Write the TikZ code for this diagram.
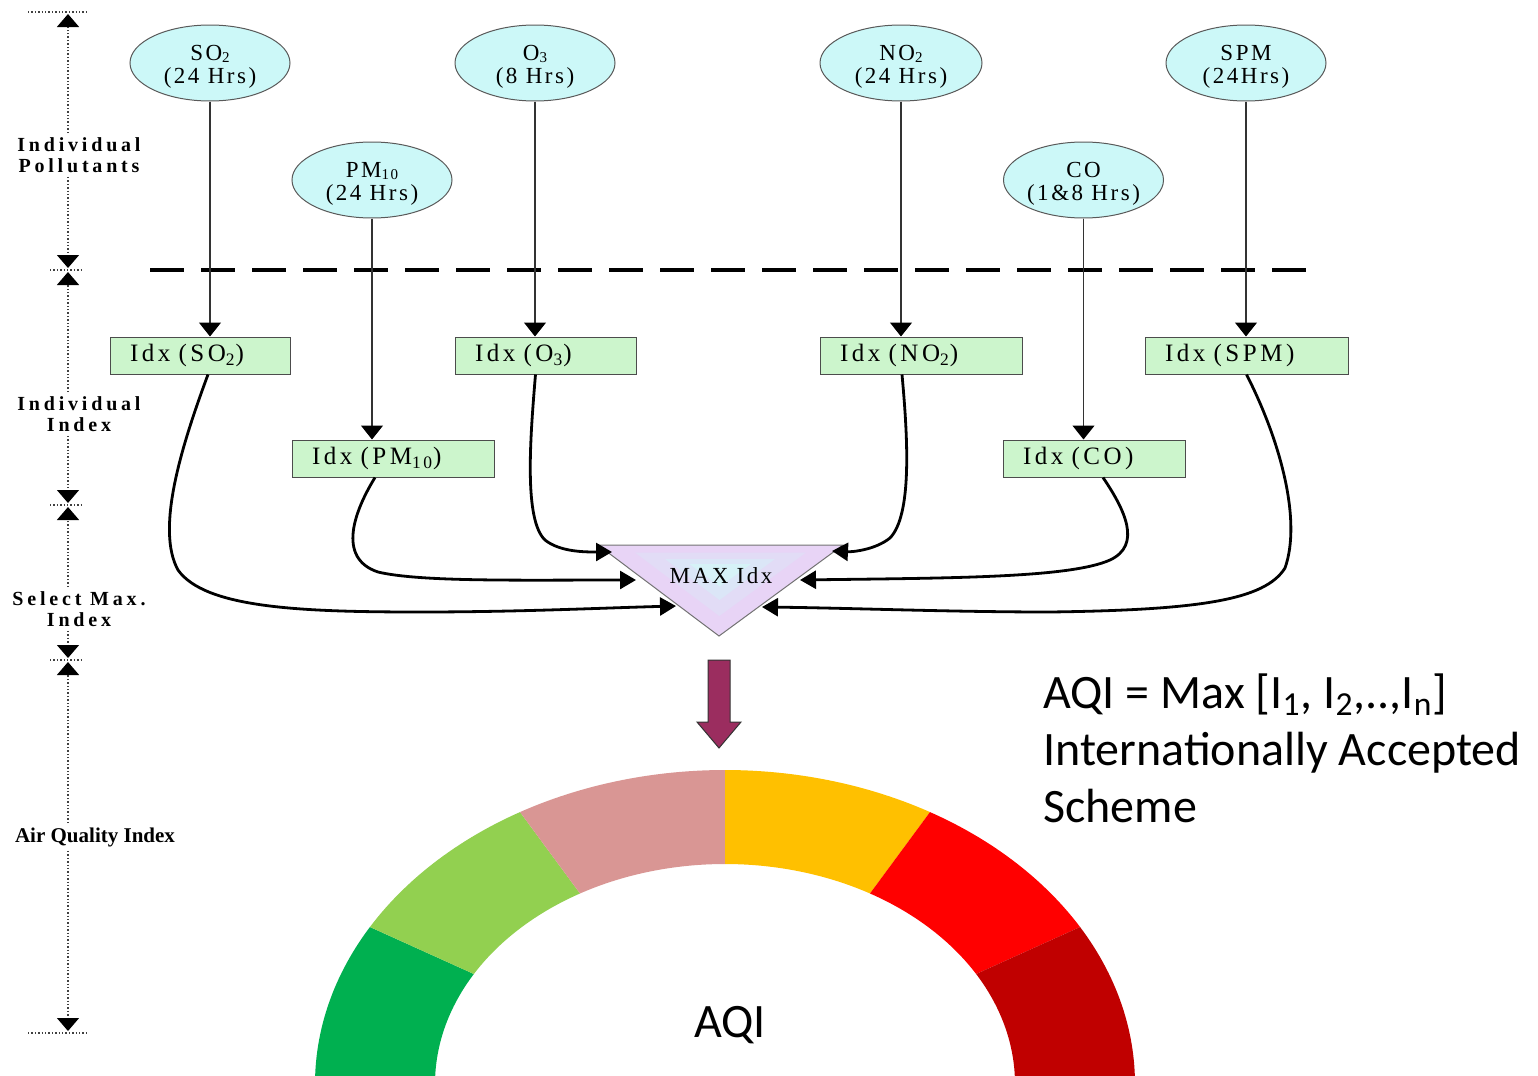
\documentclass[tikz,border=0pt]{standalone}
\usepackage{fontspec}
\setmainfont{Liberation Serif}
\newfontfamily\diagf[LetterSpace=11]{Liberation Serif}
\newfontfamily\boxf[LetterSpace=14]{Liberation Serif}
\newfontfamily\axisf[LetterSpace=19]{Liberation Serif}
\newfontfamily\calf{Carlito}
\usetikzlibrary{arrows.meta,shapes.geometric}
\definecolor{ellfill}{HTML}{CCF8F8}
\definecolor{boxfill}{HTML}{CCF5CC}
\definecolor{lavA}{HTML}{E8D4F6}
\definecolor{lavB}{HTML}{E2DCF6}
\definecolor{lavC}{HTML}{DBE6F7}
\definecolor{lavD}{HTML}{D6F2F7}
\definecolor{plum}{HTML}{9B2D5F}
\definecolor{gA}{HTML}{00B050}
\definecolor{gB}{HTML}{92D050}
\definecolor{gC}{HTML}{D99694}
\definecolor{gD}{HTML}{FFC000}
\definecolor{gE}{HTML}{FF0000}
\definecolor{gF}{HTML}{C00000}
\tikzset{
  pollutant/.style={ellipse, draw=black!65, fill=ellfill, line width=0.5pt,
    minimum width=80pt, minimum height=38pt, inner sep=0pt, align=center,
    font=\diagf\fontsize{11.5}{11.5}\selectfont},
  idxbox/.style={rectangle, draw=black!70, fill=boxfill, line width=0.5pt,
    minimum height=18.5pt, inner xsep=10pt, inner ysep=0pt, align=left,
    font=\boxf\fontsize{12.5}{12.5}\selectfont},
  feed/.style={draw=black!80, line width=0.6pt, -{Triangle[width=11pt,length=7pt,color=black]}},
  merge/.style={draw=black, line width=1.4pt, -{Triangle[width=9pt,length=8pt]}},
  axisline/.style={draw=black!75, densely dotted, line width=0.7pt},
  axtip/.style={-{Triangle[width=11pt,length=6.5pt,color=black]}, shorten >=1pt},
  axislab/.style={align=center, inner sep=2pt, font=\axisf\bfseries\fontsize{10}{10.5}\selectfont},
  sepline/.style={draw=black, line width=2pt, dash pattern=on 17pt off 8.5pt},
  bigtext/.style={anchor=base west, inner sep=0pt, font=\calf\fontsize{24}{28}\selectfont}
}
\newcommand{\lift}{\rule{0pt}{11pt}}
\newcommand{\sbs}[1]{\raisebox{-0.1em}{\fontsize{7.5}{7.5}\selectfont #1}}
\begin{document}
\begin{tikzpicture}[x=0.5pt,y=-0.5pt]
\useasboundingbox (0,0) rectangle (1538,1076);
\clip (0,0) rectangle (1538,1076);

% ---------- left axis ----------
\coordinate (t0) at (68,12);
\coordinate (s1) at (68,270);
\coordinate (s2) at (68,505);
\coordinate (s3) at (68,660);
\coordinate (t4) at (68,1033);
\node[axislab] (l1) at (79,155) {Individual\\Pollutants};
\node[axislab] (l2) at (79,414) {Individual\\Index};
\node[axislab] (l3) at (79,609) {Select Max.\\Index};
\node[inner sep=2pt, font=\bfseries\fontsize{10.5}{12}\selectfont] (l4) at (95,837) {Air Quality Index};

\draw[axisline] ([xshift=-20pt]t0) -- ([xshift=9pt]t0);
\draw[axisline] ([xshift=-20pt]t4) -- ([xshift=9pt]t4);
\foreach \s in {s1,s2,s3}
  \draw[axisline] ([xshift=-9pt]\s) -- ([xshift=7pt]\s);

\draw[axisline, axtip] (t0 |- l1.north) -- (t0);
\draw[axisline, axtip] (t0 |- l1.south) -- (s1);
\draw[axisline, axtip] (t0 |- l2.north) -- (s1);
\draw[axisline, axtip] (t0 |- l2.south) -- (s2);
\draw[axisline, axtip] (t0 |- l3.north) -- (s2);
\draw[axisline, axtip] (t0 |- l3.south) -- (s3);
\draw[axisline, axtip] (t0 |- l4.north) -- (s3);
\draw[axisline, axtip] (t0 |- l4.south) -- (t4);

% ---------- pollutants ----------
\node[pollutant] (so2) at (210,63) {\lift SO\sbs{2}\\(24 Hrs)};
\node[pollutant] (o3) at (535,63) {\lift O\sbs{3}\\(8 Hrs)};
\node[pollutant, minimum width=81pt] (no2) at (901,63) {\lift NO\sbs{2}\\(24 Hrs)};
\node[pollutant] (spm) at (1246,63) {\lift SPM\\(24Hrs)};
\node[pollutant] (pm10) at (372,180) {\lift PM\sbs{10}\\(24 Hrs)};
\node[pollutant] (co) at (1083.5,180) {\lift CO\\(1\&8 Hrs)};

% ---------- separator ----------
\coordinate (dl) at (150,270);
\coordinate (dr) at (1306,270);
\draw[sepline] (dl) -- (dr);

% ---------- index boxes ----------
\node[idxbox, text width=70pt] (iso2) at (200,355.5) {Idx (SO\textsubscript{2})};
\node[idxbox, text width=70.5pt] (io3) at (545.5,355.5) {Idx (O\textsubscript{3})};
\node[idxbox, text width=81pt] (ino2) at (921,355.5) {Idx (NO\textsubscript{2})};
\node[idxbox, text width=81.5pt] (ispm) at (1246.5,355.5) {Idx (SPM)};
\node[idxbox, text width=81pt] (ipm10) at (393,458.5) {Idx (PM\textsubscript{10})};
\node[idxbox, text width=71pt] (ico) at (1094,458.5) {Idx (CO)};

\draw[feed] (so2) -- (so2 |- iso2.north);
\draw[feed] (o3) -- (o3 |- io3.north);
\draw[feed] (no2) -- (no2 |- ino2.north);
\draw[feed] (spm) -- (spm |- ispm.north);
\draw[feed] (pm10) -- (pm10 |- ipm10.north);
\draw[feed] (co) -- (co |- ico.north);

% ---------- MAX triangle ----------
\coordinate (tl) at (598,545);
\coordinate (tr) at (843,545);
\coordinate (tb) at (719,636);
\fill[lavA] (tl) -- (tr) -- (tb) -- cycle;
\fill[lavB] (635,552.5) -- (806,552.5) -- (719.3,616) -- cycle;
\fill[lavC] (665,559) -- (775,559) -- (719.5,600) -- cycle;
\fill[lavD] (689.5,564) -- (751,564) -- (719.7,586.5) -- cycle;
\draw[black!55, line width=0.5pt] (tl) -- (tr) -- (tb) -- cycle;
\node[font=\diagf\fontsize{11.5}{11.5}\selectfont] (maxidx) at (721,576) {MAX Idx};

\coordinate (a1) at (676,606);
\coordinate (a2) at (636,580);
\coordinate (a3) at (612,552);
\coordinate (a4) at (832,551);
\coordinate (a5) at (800,580);
\coordinate (a6) at (762,607);

\draw[merge] ([xshift=4pt]iso2.south) .. controls (180,450) and (156,530) .. (178,570)
  .. controls (205,608) and (300,612) .. (420,612) .. controls (520,612) and (600,608) .. (a1);
\draw[merge] ([xshift=-9pt]ipm10.south) .. controls (355,510) and (336,558) .. (378,572)
  .. controls (420,582) and (520,580) .. (a2);
\draw[merge] ([xshift=-5pt]io3.south) .. controls (530,440) and (524,520) .. (545,540)
  .. controls (560,552) and (585,552) .. (a3);
\draw[merge] ([xshift=-9.5pt]ino2.south) .. controls (908,440) and (912,515) .. (890,538)
  .. controls (875,550) and (852,552) .. (a4);
\draw[merge] ([xshift=4.5pt]ico.south) .. controls (1125,510) and (1142,545) .. (1110,560)
  .. controls (1070,578) and (950,578) .. (a5);
\draw[merge] (ispm.south) .. controls (1280,440) and (1302,520) .. (1285,568)
  .. controls (1265,600) and (1200,610) .. (1050,612) .. controls (950,612) and (850,608) .. (a6);

% ---------- big arrow ----------
\filldraw[fill=plum, draw=black!80, line width=0.5pt]
  (708,660) -- (730,660) -- (730,722) -- (741,722) -- (719,748) -- (697,722) -- (708,722) -- cycle;

% ---------- gauge ----------
\foreach \a/\b/\c in {180/150/gA,150/120/gB,120/90/gC,90/60/gD,60/30/gE,30/0/gF}
  \fill[\c] plot[domain=\a:\b, samples=30] ({725+410*cos(\x)},{1084-314*sin(\x)})
    -- plot[domain=\b:\a, samples=30] ({725+290*cos(\x)},{1084-220*sin(\x)}) -- cycle;
\node[anchor=base, inner sep=0pt, font=\calf\fontsize{24}{28}\selectfont] (aqilab) at (730,1037) {AQI};

% ---------- formula text ----------
\node[bigtext] (f1) at (1043,708) {AQI = Max [I\textsubscript{1}, I\textsubscript{2},..,I\textsubscript{n}]};
\node[bigtext] (f2) at (1043,765) {Internationally Accepted};
\node[bigtext] (f3) at (1043,822) {Scheme};
\end{tikzpicture}
\end{document}
